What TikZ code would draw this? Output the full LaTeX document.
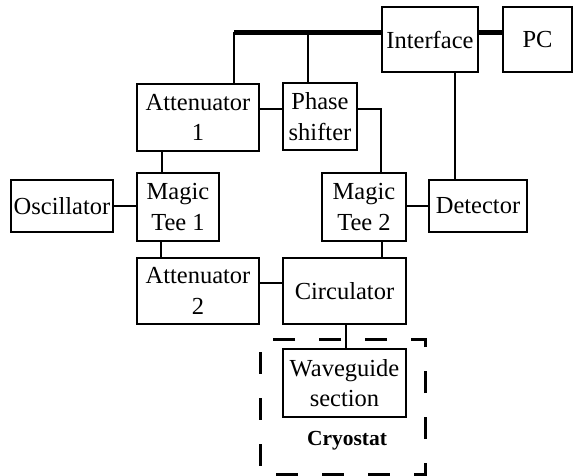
\documentclass[tikz,border=0pt]{standalone}
\usepackage{fontspec}
\setmainfont{Liberation Serif}
\begin{document}
\begin{tikzpicture}[x=1pt,y=-1pt,
  blk/.style={draw,line width=1.6pt,inner sep=0pt,align=center,font=\fontsize{24.5}{30.5}\selectfont},
  wire/.style={line width=1.6pt},
  bus/.style={line width=5pt}]
\useasboundingbox (0,0) rectangle (573,475);
\node[blk,minimum width=96pt,minimum height=65pt] (iface) at (430,39.5) {Interface};
\node[blk,minimum width=69pt,minimum height=65pt] (pc) at (537.5,39.5) {PC};
\node[blk,minimum width=122pt,minimum height=67pt] (att1) at (198,117.5) {Attenuator\\1};
\node[blk,minimum width=74pt,minimum height=67pt] (phase) at (320,116.5) {Phase\\shifter};
\node[blk,minimum width=102pt,minimum height=52pt] (osc) at (62,206) {Oscillator};
\node[blk,minimum width=82pt,minimum height=68pt] (mt1) at (178,207) {Magic\\Tee 1};
\node[blk,minimum width=84pt,minimum height=68pt] (mt2) at (364,207) {Magic\\Tee 2};
\node[blk,minimum width=98pt,minimum height=52pt] (det) at (478,206) {Detector};
\node[blk,minimum width=122pt,minimum height=66pt] (att2) at (198,291) {Attenuator\\2};
\node[blk,minimum width=123pt,minimum height=66pt] (circ) at (344.5,291) {Circulator};
\node[blk,minimum width=123pt,minimum height=68pt] (wg) at (344.5,383) {Waveguide\\section};
\node[font=\fontsize{21.5}{24}\selectfont\bfseries] (cryo) at (347,441) {Cryostat};
\draw[line width=3pt,dash pattern=on 22pt off 24pt,dash phase=33pt] (260,339) rectangle (425,474);
\coordinate (busL) at (234,32);
\coordinate (busM) at (308,32);
\draw[bus] (iface.west |- busL) -- (busL);
\draw[bus] (iface.east |- busL) -- (pc.west |- busL);
\draw[wire] (busL) -- (busL |- att1.north);
\draw[wire] (busM) -- (busM |- phase.north);
\draw[wire] (att1.east |- 0,109) -- (phase.west |- 0,109);
\coordinate (ps) at (381,109);
\draw[wire] (phase.east |- ps) -- (ps) -- (ps |- mt2.north);
\draw[wire] (455,0 |- iface.south) -- (455,0 |- det.north);
\draw[wire] (162,0 |- att1.south) -- (162,0 |- mt1.north);
\draw[wire] (osc.east) -- (osc.east -| mt1.west);
\draw[wire] (mt2.east |- det.west) -- (det.west);
\draw[wire] (161,0 |- mt1.south) -- (161,0 |- att2.north);
\draw[wire] (att2.east |- 0,283) -- (circ.west |- 0,283);
\draw[wire] (382,0 |- mt2.south) -- (382,0 |- circ.north);
\draw[wire] (346,0 |- circ.south) -- (346,0 |- wg.north);
\end{tikzpicture}
\end{document}
